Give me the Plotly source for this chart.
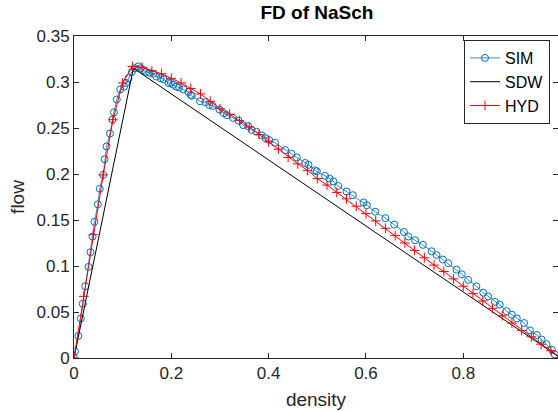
import plotly.graph_objects as go

# ---------------- data ----------------
sim_density = [0.000, 0.002, 0.009, 0.014, 0.018, 0.023, 0.030, 0.034, 0.038, 0.042,
               0.049, 0.053, 0.060, 0.063, 0.067, 0.074, 0.079, 0.082, 0.088, 0.095,
               0.103, 0.107, 0.112, 0.119, 0.125, 0.132, 0.137, 0.142, 0.148, 0.155,
               0.163, 0.169, 0.178, 0.184, 0.194, 0.199, 0.204, 0.210, 0.216, 0.225,
               0.235, 0.240, 0.242, 0.259, 0.270, 0.278, 0.285, 0.299, 0.308, 0.314,
               0.327, 0.338, 0.348, 0.358, 0.365, 0.375, 0.386, 0.394, 0.401, 0.413,
               0.434, 0.447, 0.458, 0.475, 0.482, 0.495, 0.499, 0.516, 0.525, 0.533,
               0.543, 0.560, 0.573, 0.595, 0.602, 0.619, 0.640, 0.658, 0.678, 0.687,
               0.701, 0.717, 0.735, 0.745, 0.758, 0.769, 0.786, 0.797, 0.810, 0.827,
               0.841, 0.851, 0.865, 0.875, 0.889, 0.900, 0.910, 0.925, 0.937, 0.951,
               0.961, 0.971, 0.982, 0.988, 1.000]
sim_flow = [0.000, 0.007, 0.024, 0.043, 0.059, 0.078, 0.099, 0.115, 0.132, 0.148,
            0.167, 0.184, 0.199, 0.216, 0.230, 0.244, 0.259, 0.267, 0.281, 0.292,
            0.295, 0.299, 0.304, 0.311, 0.315, 0.317, 0.315, 0.313, 0.311, 0.310,
            0.309, 0.306, 0.304, 0.303, 0.299, 0.299, 0.297, 0.295, 0.294, 0.292,
            0.289, 0.286, 0.285, 0.279, 0.278, 0.275, 0.274, 0.270, 0.266, 0.264,
            0.261, 0.258, 0.253, 0.252, 0.248, 0.246, 0.242, 0.239, 0.237, 0.234,
            0.226, 0.222, 0.218, 0.212, 0.210, 0.204, 0.203, 0.198, 0.195, 0.192,
            0.187, 0.181, 0.177, 0.169, 0.166, 0.159, 0.152, 0.145, 0.137, 0.132,
            0.128, 0.123, 0.116, 0.112, 0.107, 0.103, 0.096, 0.091, 0.085, 0.078,
            0.071, 0.067, 0.061, 0.058, 0.051, 0.047, 0.043, 0.038, 0.030, 0.025,
            0.020, 0.015, 0.009, 0.004, 0.000]

sdw_density = [0.0, 0.122, 1.0]
sdw_flow = [0.0, 0.315, 0.0]

hyd_density = [0.00, 0.02, 0.04, 0.06, 0.08, 0.10, 0.12, 0.14, 0.16, 0.18,
               0.20, 0.22, 0.24, 0.26, 0.28, 0.30, 0.32, 0.34, 0.36, 0.38,
               0.40, 0.42, 0.44, 0.46, 0.48, 0.50, 0.52, 0.54, 0.56, 0.58,
               0.60, 0.62, 0.64, 0.66, 0.68, 0.70, 0.72, 0.74, 0.76, 0.78,
               0.80, 0.82, 0.84, 0.86, 0.88, 0.90, 0.92, 0.94, 0.96, 0.98, 1.00]
hyd_flow = [0.000, 0.067, 0.134, 0.199, 0.259, 0.299, 0.317, 0.316, 0.312, 0.309,
            0.304, 0.299, 0.293, 0.287, 0.279, 0.271, 0.265, 0.258, 0.251, 0.243,
            0.235, 0.227, 0.218, 0.211, 0.204, 0.195, 0.188, 0.180, 0.173, 0.165,
            0.157, 0.149, 0.141, 0.133, 0.125, 0.117, 0.109, 0.101, 0.094, 0.086,
            0.078, 0.070, 0.062, 0.054, 0.046, 0.038, 0.030, 0.023, 0.015, 0.008, 0.000]

x_ticks = [0, 0.2, 0.4, 0.6, 0.8]
y_ticks = [0, 0.05, 0.1, 0.15, 0.2, 0.25, 0.3, 0.35]

# ---------------- figure ----------------
FONT = "Liberation Sans, Arial, Helvetica, sans-serif"
AX = "#262626"

fig = go.Figure()
fig.add_trace(go.Scatter(
    x=sim_density, y=sim_flow, name="SIM", mode="lines+markers",
    line=dict(color="#0072BD", width=0.8),
    marker=dict(symbol="circle-open", size=7, color="#0072BD", line=dict(width=1, color="#0072BD")),
))
fig.add_trace(go.Scatter(
    x=sdw_density, y=sdw_flow, name="SDW", mode="lines",
    line=dict(color="black", width=1),
))
fig.add_trace(go.Scatter(
    x=hyd_density, y=hyd_flow, name="HYD", mode="lines+markers",
    line=dict(color="red", width=1),
    marker=dict(symbol="cross-thin", size=7, color="red", line=dict(width=1, color="red")),
))

L, T, B, W, H = 74, 36, 54, 558, 412
x_end = (W - L) / 486.6

fig.update_layout(
    width=W, height=H, autosize=False,
    margin=dict(l=L, r=0, t=T, b=B, pad=0),
    paper_bgcolor="white", plot_bgcolor="white",
    font=dict(family=FONT, size=17, color=AX),
    title=dict(text="<b>FD of NaSch</b>", x=(L + 560) / 2 / W, xanchor="center",
               y=1 - 12 / H, yanchor="middle", font=dict(size=19, color="black"),
               automargin=False),
    showlegend=True,
    legend=dict(x=(464 - L) / (W - L), y=1 - (40 - T) / (H - T - B), xanchor="left", yanchor="top",
                bgcolor="white", bordercolor=AX, borderwidth=1,
                font=dict(size=16, color="black"), tracegroupgap=0,
                itemwidth=30),
)
fig.update_xaxes(
    range=[0, x_end], tickvals=x_ticks, ticktext=["0", "0.2", "0.4", "0.6", "0.8"],
    ticks="inside", ticklen=5, tickcolor=AX, showline=True, linecolor=AX, linewidth=1,
    mirror="allticks", showgrid=False, zeroline=False, automargin=False,
    title=dict(text="density", font=dict(size=19, color=AX), standoff=10),
    tickfont=dict(size=17, color=AX),
)
fig.update_yaxes(
    range=[0, 0.35], tickvals=y_ticks, ticktext=["0", "0.05", "0.1", "0.15", "0.2", "0.25", "0.3", "0.35"],
    ticks="inside", ticklen=5, tickcolor=AX, showline=True, linecolor=AX, linewidth=1,
    mirror="allticks", showgrid=False, zeroline=False, automargin=False,
    title=dict(text="flow", font=dict(size=19, color=AX), standoff=6),
    tickfont=dict(size=17, color=AX),
)
# clipped "1" tick label at the right edge
fig.add_annotation(x=1.0, xref="x", y=0, yref="paper", yanchor="top", yshift=-3,
                   text="1", showarrow=False, font=dict(size=17, color=AX))

fig.write_html(
    "out.html",
    config={"displayModeBar": False},
    post_script="document.body.style.margin='0';document.body.style.overflow='hidden';",
)
